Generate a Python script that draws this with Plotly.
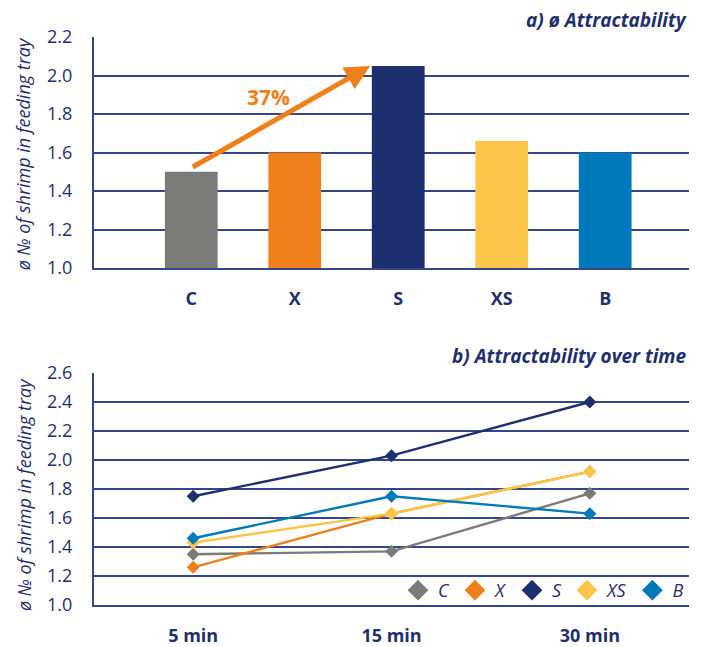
import plotly.graph_objects as go

# ---- data ----
cats = ["C", "X", "S", "XS", "B"]
avg_values = [1.50, 1.60, 2.05, 1.66, 1.60]
bar_colors = ["#7b7b7a", "#ef7f1a", "#1d2f6f", "#fcc547", "#0079ba"]

times = ["5 min", "15 min", "30 min"]
series_names = ["C", "X", "S", "XS", "B"]
series_C = [1.35, 1.37, 1.77]
series_X = [1.26, 1.63, 1.92]
series_S = [1.75, 2.03, 2.40]
series_XS = [1.43, 1.63, 1.92]
series_B = [1.46, 1.75, 1.63]
series_vals = [series_C, series_X, series_S, series_XS, series_B]

NAVY = "#1f2f6e"
GRID = "#34468a"
FONT = "Open Sans"

fig = go.Figure()

fig.add_trace(go.Bar(x=cats, y=[v - 1.0 for v in avg_values], base=1.0,
                     marker=dict(color=bar_colors, line=dict(width=0)),
                     width=0.51, showlegend=False, xaxis="x", yaxis="y"))

for name, vals, col in zip(series_names, series_vals, bar_colors):
    fig.add_trace(go.Scatter(x=times, y=vals, mode="lines+markers", name=name,
                             line=dict(color=col, width=2.4),
                             marker=dict(symbol="diamond", size=10, color=col),
                             showlegend=False, xaxis="x2", yaxis="y2"))
    fig.add_trace(go.Scatter(x=[None], y=[None], mode="markers", name=name,
                             marker=dict(symbol="diamond", size=16, color=col),
                             showlegend=True, xaxis="x2", yaxis="y2"))

tickfont = dict(family=FONT, size=18, color=NAVY)
catfont = dict(family=FONT, size=18, color=NAVY, weight="bold")

fig.update_layout(
    width=707, height=647,
    margin=dict(l=94, r=18, t=37, b=42, autoexpand=False),
    paper_bgcolor="white", plot_bgcolor="white",
    xaxis=dict(domain=[0, 1], anchor="y", range=[-0.94, 4.81], showgrid=False,
               showline=True, linecolor=GRID, linewidth=2, ticks="", automargin=False,
               tickfont=catfont, ticklabelstandoff=13, fixedrange=True),
    yaxis=dict(domain=[0.5933, 1.0], anchor="x", range=[1.0, 2.2], dtick=0.2,
               tickformat=".1f", showgrid=True, gridcolor=GRID, gridwidth=1.6,
               showline=True, linecolor=GRID, linewidth=2, ticks="", automargin=False,
               tickfont=tickfont, ticklabelstandoff=16, zeroline=False),
    xaxis2=dict(domain=[0, 1], anchor="y2", range=[-0.5, 2.5], showgrid=False,
                showline=True, linecolor=GRID, linewidth=2, ticks="", automargin=False,
                tickfont=catfont, ticklabelstandoff=13),
    yaxis2=dict(domain=[0, 0.4085], anchor="x2", range=[1.0, 2.6], dtick=0.2,
                tickformat=".1f", showgrid=True, gridcolor=GRID, gridwidth=1.6,
                showline=True, linecolor=GRID, linewidth=2, ticks="", automargin=False,
                tickfont=tickfont, ticklabelstandoff=16, zeroline=False),
    legend=dict(orientation="h", x=1.0, xanchor="right", y=0.0255, yanchor="middle",
                bgcolor="rgba(0,0,0,0)", font=dict(family=FONT, size=18, color=NAVY, style="italic"),
                itemwidth=30, tracegroupgap=0),
)

ytitle = "ø № of shrimp in feeding tray"
fig.add_annotation(text=ytitle, xref="paper", yref="paper", x=-0.118, y=0.795,
                   xanchor="center", yanchor="middle", textangle=-90, showarrow=False,
                   font=dict(family=FONT, size=18, color=NAVY, style="italic"))
fig.add_annotation(text=ytitle, xref="paper", yref="paper", x=-0.118, y=0.195,
                   xanchor="center", yanchor="middle", textangle=-90, showarrow=False,
                   font=dict(family=FONT, size=18, color=NAVY, style="italic"))

fig.add_annotation(text="a) ø Attractability", xref="paper", yref="paper", x=1.0, y=1.0,
                   xanchor="right", yanchor="bottom", yshift=2, showarrow=False,
                   font=dict(family=FONT, size=19, color=NAVY, weight="bold", style="italic"))
fig.add_annotation(text="b) Attractability over time", xref="paper", yref="paper", x=1.0, y=0.4085,
                   xanchor="right", yanchor="bottom", yshift=2, showarrow=False,
                   font=dict(family=FONT, size=19, color=NAVY, weight="bold", style="italic"))

# arrow showing the 37% increase
fig.add_annotation(x=1.73, y=2.05, ax=0.0, ay=1.52, xref="x", yref="y", axref="x", ayref="y",
                   text="", showarrow=True, arrowhead=2, arrowsize=1.0, arrowwidth=5,
                   arrowcolor="#ef7f1a")
fig.add_annotation(x=0.75, y=1.89, xref="x", yref="y", text="37%", showarrow=False,
                   font=dict(family=FONT, size=21, color="#ef7f1a", weight="bold"))

fig.write_html("out.html")
